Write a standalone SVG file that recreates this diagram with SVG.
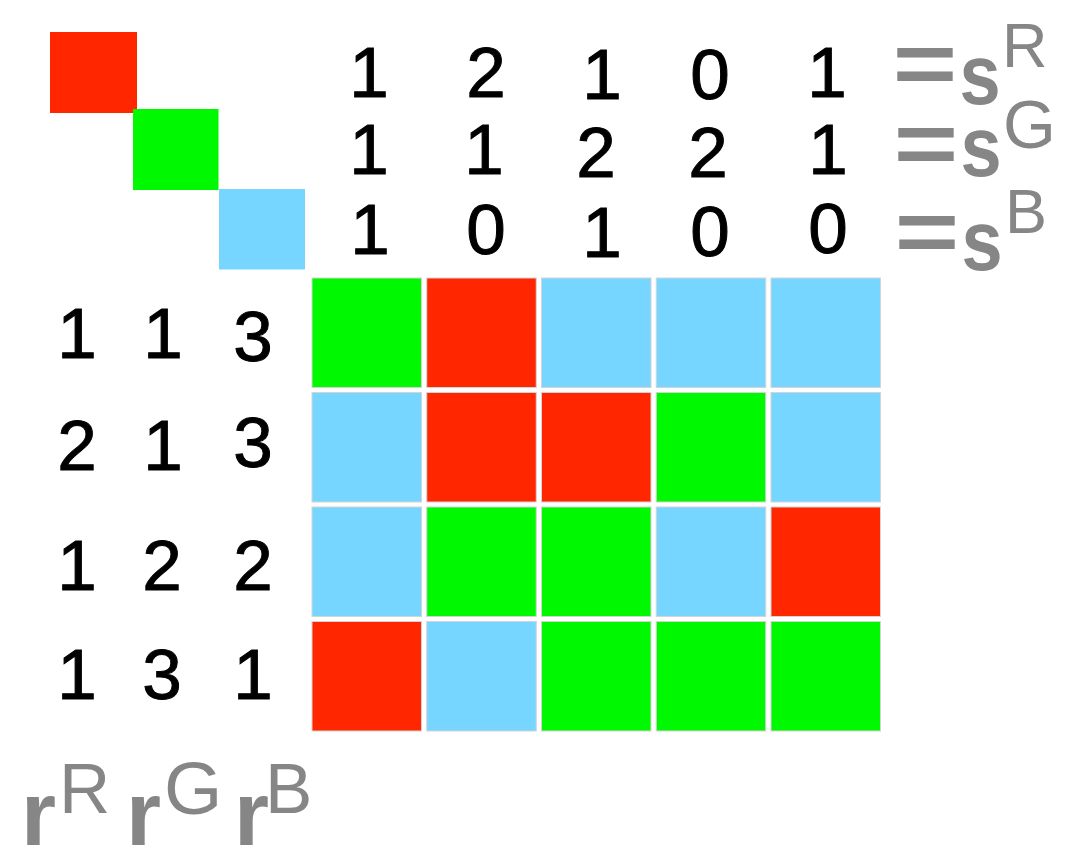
<svg xmlns="http://www.w3.org/2000/svg" width="1072" height="850" viewBox="0 0 1072 850">
<style>
.R{fill:#ff2600}.G{fill:#00f900}.B{fill:#76d6ff}
.cell{stroke:#d4d4d4;stroke-width:1}
.num{font-family:"Liberation Sans",Arial,sans-serif;font-size:71px;fill:#000;stroke:#000;stroke-width:1;text-anchor:middle}
.lab{font-family:"Liberation Sans",Arial,sans-serif;fill:#868686}
.eq{font-size:92px;font-weight:bold;text-anchor:middle}
.big{font-size:86px;font-weight:bold;text-anchor:middle}
.sup{font-size:63px}
.bsup{font-size:71px}
.rr{font-size:90px;font-weight:bold}
</style>
<rect width="1072" height="850" fill="#fff"/>
<g id="legend">
<rect class="R" x="50" y="32" width="87" height="81"/>
<rect class="G" x="133" y="109" width="85.5" height="81"/>
<rect class="B" x="219" y="189" width="86" height="80.5"/>
</g>
<g id="grid">
<rect class="cell G" x="312" y="278" width="109.5" height="109.5"/>
<rect class="cell R" x="426.75" y="278" width="109.5" height="109.5"/>
<rect class="cell B" x="541.5" y="278" width="109.5" height="109.5"/>
<rect class="cell B" x="656.25" y="278" width="109.5" height="109.5"/>
<rect class="cell B" x="771" y="278" width="109.5" height="109.5"/>
<rect class="cell B" x="312" y="392.5" width="109.5" height="109.5"/>
<rect class="cell R" x="426.75" y="392.5" width="109.5" height="109.5"/>
<rect class="cell R" x="541.5" y="392.5" width="109.5" height="109.5"/>
<rect class="cell G" x="656.25" y="392.5" width="109.5" height="109.5"/>
<rect class="cell B" x="771" y="392.5" width="109.5" height="109.5"/>
<rect class="cell B" x="312" y="507" width="109.5" height="109.5"/>
<rect class="cell G" x="426.75" y="507" width="109.5" height="109.5"/>
<rect class="cell G" x="541.5" y="507" width="109.5" height="109.5"/>
<rect class="cell B" x="656.25" y="507" width="109.5" height="109.5"/>
<rect class="cell R" x="771" y="507" width="109.5" height="109.5"/>
<rect class="cell R" x="312" y="621.5" width="109.5" height="109.5"/>
<rect class="cell B" x="426.75" y="621.5" width="109.5" height="109.5"/>
<rect class="cell G" x="541.5" y="621.5" width="109.5" height="109.5"/>
<rect class="cell G" x="656.25" y="621.5" width="109.5" height="109.5"/>
<rect class="cell G" x="771" y="621.5" width="109.5" height="109.5"/>
</g>
<g id="col-sums">
<text class="num" x="369" y="97">1</text>
<text class="num" x="486" y="97">2</text>
<text class="num" x="602" y="99">1</text>
<text class="num" x="710" y="99">0</text>
<text class="num" x="827" y="97">1</text>
<text class="num" x="369" y="174">1</text>
<text class="num" x="484" y="174">1</text>
<text class="num" x="596" y="177">2</text>
<text class="num" x="708" y="177">2</text>
<text class="num" x="828" y="174">1</text>
<text class="num" x="370" y="254">1</text>
<text class="num" x="486" y="254">0</text>
<text class="num" x="602" y="257">1</text>
<text class="num" x="710" y="256">0</text>
<text class="num" x="828" y="253">0</text>
</g>
<g id="row-sums">
<text class="num" x="77" y="358">1</text>
<text class="num" x="163" y="358">1</text>
<text class="num" x="253" y="361">3</text>
<text class="num" x="77" y="470">2</text>
<text class="num" x="163" y="470">1</text>
<text class="num" x="253" y="467">3</text>
<text class="num" x="77" y="590">1</text>
<text class="num" x="162" y="590">2</text>
<text class="num" x="253" y="590">2</text>
<text class="num" x="77" y="699">1</text>
<text class="num" x="162" y="699">3</text>
<text class="num" x="253" y="699">1</text>
</g>
<g id="s-labels" class="lab">
<text class="eq" transform="translate(925,93) scale(1.2,0.95)">=</text>
<text class="big" transform="translate(980,104) scale(0.86,1)">s</text>
<text class="sup" x="1002" y="67">R</text>
<text class="eq" transform="translate(926,173) scale(1.2,0.95)">=</text>
<text class="big" transform="translate(981,176) scale(0.86,1)">s</text>
<text class="sup" x="1003" y="148" style="font-size:68px">G</text>
<text class="eq" transform="translate(927,261) scale(1.2,0.95)">=</text>
<text class="big" transform="translate(982,270) scale(0.86,1)">s</text>
<text class="sup" x="1005" y="233">B</text>
</g>
<g id="r-labels" class="lab">
<text class="rr" x="21" y="845">r</text>
<text class="bsup" x="59" y="813">R</text>
<text class="rr" x="126" y="845">r</text>
<text class="bsup" x="164" y="814" style="font-size:75px">G</text>
<text class="rr" x="234" y="845">r</text>
<text class="bsup" x="265" y="813">B</text>
</g>
</svg>
